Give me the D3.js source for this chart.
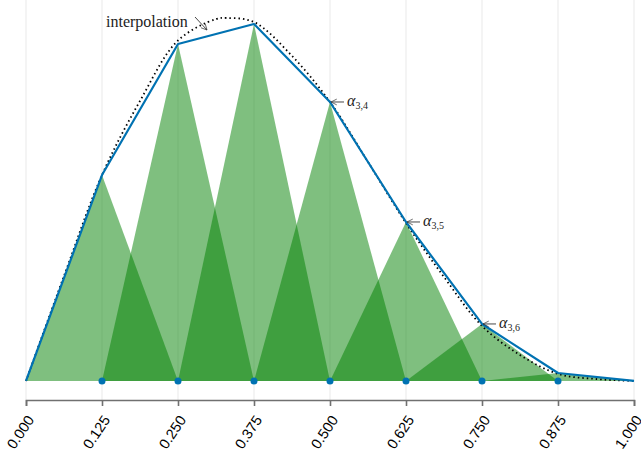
<!DOCTYPE html>
<html>
<head>
<meta charset="utf-8">
<script src="https://cdn.jsdelivr.net/npm/d3@7"></script>
<style>
  body { margin: 0; background: #fff; }
  .tick text { font-family: "Liberation Sans", Arial, sans-serif; }
  .ann { font-family: "Liberation Serif", "DejaVu Serif", serif; }
</style>
</head>
<body>
<div id="chart"></div>
<script>
// knots of the piecewise linear fit
var knots = [0, 0.125, 0.25, 0.375, 0.5, 0.625, 0.75, 0.875, 1];
var knotValues = [0, 1.373, 2.247, 2.38, 1.86, 1.06, 0.38, 0.053, 0];

// dotted curve (the interpolated function)
var curveX = [0, 0.0625, 0.125, 0.1875, 0.25, 0.3125, 0.33, 0.375, 0.4375, 0.5, 0.5625, 0.625, 0.6875, 0.75, 0.8125, 0.875, 0.9375, 1];
var curveY = [0, 0.70, 1.373, 1.867, 2.27, 2.413, 2.42, 2.393, 2.167, 1.86, 1.46, 1.053, 0.693, 0.367, 0.173, 0.047, 0.013, 0];

var tickLabels = ["0.000", "0.125", "0.250", "0.375", "0.500", "0.625", "0.750", "0.875", "1.000"];
var alphaLabels = [{i: 4, sub: "3,4"}, {i: 5, sub: "3,5"}, {i: 6, sub: "3,6"}];

var svgWidth = 641;
var svgHeight = 454;

var svg = d3.select("#chart")
    .append("svg")
    .attr("width", svgWidth)
    .attr("height", svgHeight);

var x = d3.scaleLinear().domain([0, 1]).range([26, 634]);
var y = d3.scaleLinear().domain([-0.127, 2.54]).range([400, 0]);

// grid
svg.append("g")
  .selectAll("line")
  .data(knots)
  .enter()
  .append("line")
  .attr("x1", function(d){ return x(d); })
  .attr("x2", function(d){ return x(d); })
  .attr("y1", 0)
  .attr("y2", 400)
  .attr("stroke", "#000")
  .attr("stroke-opacity", 0.09)
  .attr("stroke-width", 1);

// hat functions
var hats = knots.map(function(k, i) {
  var a = i > 0 ? knots[i - 1] : k;
  var b = i < knots.length - 1 ? knots[i + 1] : k;
  return [[a, 0], [k, knotValues[i]], [b, 0]];
}).filter(function(h, i){ return knotValues[i] > 0; });

svg.append("g")
  .selectAll("path")
  .data(hats)
  .enter()
  .append("path")
  .attr("d", d3.line().x(function(d){ return x(d[0]); }).y(function(d){ return y(d[1]); }))
  .attr("fill", "rgb(0,128,0)")
  .attr("fill-opacity", 0.5)
  .attr("stroke", "none");

// interpolation (dotted)
var interp = curveX.map(function(v, i){ return [v, curveY[i]]; });
svg.append("path")
  .datum(interp)
  .attr("d", d3.line().x(function(d){ return x(d[0]); }).y(function(d){ return y(d[1]); }).curve(d3.curveCatmullRom))
  .attr("fill", "none")
  .attr("stroke", "#000")
  .attr("stroke-width", 1.8)
  .attr("stroke-dasharray", "1.5,3");

// piecewise linear line
var pl = knots.map(function(k, i){ return [k, knotValues[i]]; });
svg.append("path")
  .datum(pl)
  .attr("d", d3.line().x(function(d){ return x(d[0]); }).y(function(d){ return y(d[1]); }))
  .attr("fill", "none")
  .attr("stroke", "#0072b2")
  .attr("stroke-width", 2.2)
  .attr("stroke-linejoin", "round");

// knot dots
svg.append("g")
  .selectAll("circle")
  .data(knots.slice(1, -1))
  .enter()
  .append("circle")
  .attr("cx", function(d){ return x(d); })
  .attr("cy", y(0))
  .attr("r", 3.5)
  .attr("fill", "#0072b2");

// x axis
var xAxis = d3.axisBottom(x)
  .tickValues(knots)
  .tickFormat(function(d, i){ return tickLabels[i]; })
  .tickSizeOuter(0)
  .tickSize(6);

var ax = svg.append("g")
  .attr("transform", "translate(0,400)")
  .call(xAxis);
ax.select(".domain").attr("stroke", "#707070").attr("stroke-width", 1.6);
ax.selectAll(".tick line").attr("stroke", "#707070").attr("stroke-width", 1.6);
ax.selectAll(".tick text")
  .attr("font-size", 14.5)
  .attr("fill", "#000")
  .attr("text-anchor", "end")
  .attr("x", 0)
  .attr("y", 0)
  .attr("dy", "0.35em")
  .attr("transform", "translate(4,17) rotate(-56)");

// arrows
var defs = svg.append("defs");
defs.append("marker")
  .attr("id", "arr")
  .attr("viewBox", "0 0 10 10")
  .attr("refX", 9).attr("refY", 5)
  .attr("markerWidth", 8).attr("markerHeight", 8)
  .attr("orient", "auto")
  .append("path")
  .attr("d", "M1,1 L9,5 L1,9")
  .attr("fill", "none")
  .attr("stroke", "#333")
  .attr("stroke-width", 1);

// interpolation label
svg.append("text")
  .attr("class", "ann")
  .attr("x", 106)
  .attr("y", 27)
  .attr("font-size", 16)
  .attr("fill", "#222")
  .text("interpolation");
svg.append("line")
  .attr("x1", 195).attr("y1", 17)
  .attr("x2", 207).attr("y2", 30)
  .attr("stroke", "#333")
  .attr("stroke-width", 0.9)
  .attr("marker-end", "url(#arr)");

// alpha labels
alphaLabels.forEach(function(a) {
  var px = x(knots[a.i]), py = y(knotValues[a.i]);
  svg.append("line")
    .attr("x1", px + 14).attr("y1", py)
    .attr("x2", px + 1).attr("y2", py)
    .attr("stroke", "#333")
    .attr("stroke-width", 0.9)
    .attr("marker-end", "url(#arr)");
  var t = svg.append("text")
    .attr("class", "ann")
    .attr("x", px + 17)
    .attr("y", py + 4)
    .attr("fill", "#222")
    .attr("font-size", 16);
  t.append("tspan").attr("font-style", "italic").text("\u03b1");
  t.append("tspan").attr("font-size", 10).attr("dy", 3).text(a.sub);
});
</script>
</body>
</html>
